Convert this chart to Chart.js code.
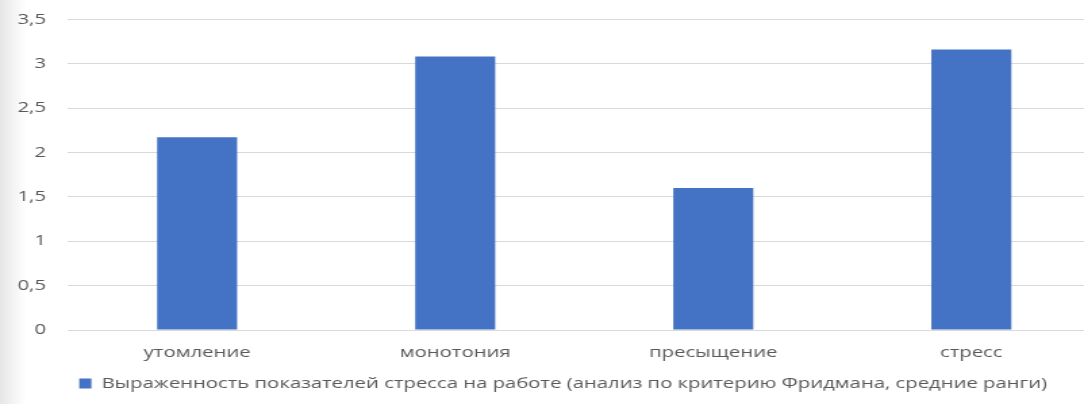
<!DOCTYPE html>
<html>
<head>
<meta charset="utf-8">
<script src="https://cdn.jsdelivr.net/npm/chart.js@4/dist/chart.umd.min.js"></script>
<style>
  html, body { margin: 0; padding: 0; overflow: hidden; width: 1084px; height: 404px; }
  body { background: linear-gradient(to right, #e6e6e6 0px, #f4f4f4 14px, #fff 26px); }
  #wrap { position: absolute; left: 0; top: -6px; height: 410px; transform-origin: 0 0; }
</style>
</head>
<body>
<div id="wrap"><canvas id="chart"></canvas></div>
<script>
// the source picture is stretched sideways, so the chart is drawn narrow and scaled in x
const STRETCH = 1.35;

const categories = ['утомление', 'монотония', 'пресыщение', 'стресс'];
const seriesLabel = 'Выраженность показателей стресса на работе (анализ по критерию Фридмана, средние ранги)';
const meanRanks = [2.17, 3.08, 1.60, 3.16];
const yTicks = [0, 0.5, 1, 1.5, 2, 2.5, 3, 3.5];

// the reference is cropped on the right: plot area runs to x=1099
const wrap = document.getElementById('wrap');
const cssW = 1136 / STRETCH;
wrap.style.width = cssW + 'px';
wrap.style.transform = 'scaleX(' + STRETCH + ')';

const grey = '#595959';
const font = { family: '"Open Sans", "Noto Sans", sans-serif', size: 15 };

// legend sits a little right of the canvas centre in the reference
const legendShift = {
    id: 'legendShift',
    afterLayout(chart) {
        const d = 13 / STRETCH;
        chart.legend.left += d;
        chart.legend.right += d;
    }
};

new Chart(document.getElementById('chart'), {
    type: 'bar',
    data: {
        labels: categories,
        datasets: [{
            label: seriesLabel,
            data: meanRanks,
            backgroundColor: '#4472C4',
            barPercentage: 0.31,
            categoryPercentage: 1
        }]
    },
    options: {
        responsive: true,
        maintainAspectRatio: false,
        animation: false,
        layout: { padding: { left: 0, right: 37 / STRETCH, top: 5, bottom: 3 } },
        plugins: {
            tooltip: { enabled: false },
            legend: {
                position: 'bottom',
                labels: {
                    color: grey,
                    font,
                    boxWidth: 9,
                    boxHeight: 10,
                    padding: 8
                }
            }
        },
        scales: {
            x: {
                grid: { display: false },
                border: { display: false },
                ticks: { color: grey, font, padding: 6 }
            },
            y: {
                min: 0,
                max: 3.5,
                afterBuildTicks(scale) { scale.ticks = yTicks.map(v => ({ value: v })); },
                afterFit(scale) { scale.width = 68 / STRETCH; },
                grid: { color: '#d9d9d9', lineWidth: 1, drawTicks: false },
                border: { display: false },
                ticks: {
                    color: grey,
                    font,
                    padding: 22 / STRETCH,
                    callback: v => String(v).replace('.', ',')
                }
            }
        }
    },
    plugins: [legendShift]
});
</script>
</body>
</html>
